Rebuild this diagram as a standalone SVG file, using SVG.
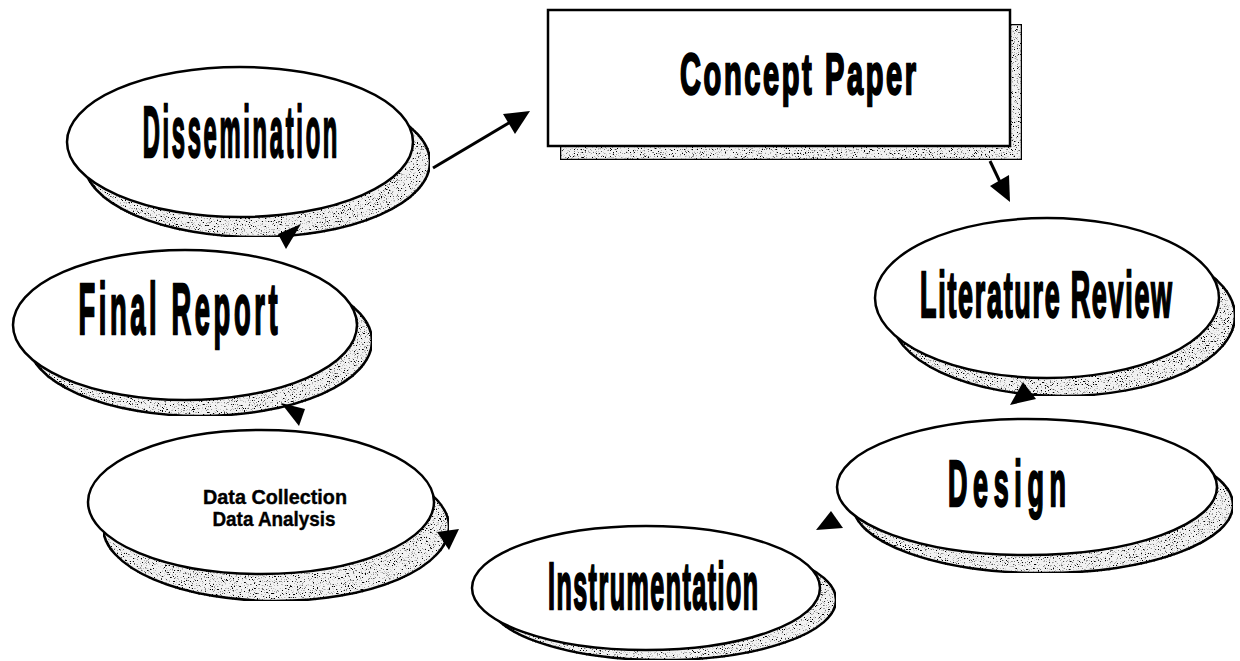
<svg xmlns="http://www.w3.org/2000/svg" width="1240" height="661" viewBox="0 0 1240 661">
  <defs>
    <!-- stippled grey used for the drop shadows -->
    <filter id="grain" x="0" y="0" width="100%" height="100%">
      <feTurbulence type="fractalNoise" baseFrequency="0.75" numOctaves="2" seed="7" result="noise"/>
      <feColorMatrix in="noise" type="matrix" values="0 0 0 0 0  0 0 0 0 0  0 0 0 0 0  -7 0 0 0 3.0" result="dots"/>
      <feComposite in="dots" in2="SourceGraphic" operator="in" result="clipped"/>
      <feMerge>
        <feMergeNode in="SourceGraphic"/>
        <feMergeNode in="clipped"/>
      </feMerge>
    </filter>
    <style>
      .shadow { fill: #f2f2f2; stroke: #000; stroke-width: 2.5; filter: url(#grain); }
      .face { fill: #fff; stroke: #000; stroke-width: 2.5; }
      .label { font-family: "Liberation Sans", Arial, sans-serif; font-weight: bold; fill: #000; stroke: #000; text-anchor: middle; }
      .big { stroke-width: 2.4; }
      .small { stroke-width: 0.4; }
      .link { stroke: #000; stroke-width: 3; fill: none; }
      .head { fill: #000; stroke: none; }
    </style>
  </defs>

  <rect width="1240" height="661" fill="#fff"/>

  <g id="concept-paper">
    <rect class="shadow" x="560" y="24" width="462" height="136"/>
    <rect class="face" x="548" y="10" width="462" height="136"/>
    <text class="label big" transform="translate(798,94) scale(0.5,1)" font-size="58" textLength="472" lengthAdjust="spacing">Concept Paper</text>
  </g>

  <g id="dissemination">
    <ellipse class="shadow" cx="257" cy="162" rx="173" ry="75"/>
    <ellipse class="face" cx="240" cy="142" rx="173" ry="75"/>
    <text class="label big" transform="translate(240,157) scale(0.33,1)" font-size="72" textLength="590" lengthAdjust="spacing">Dissemination</text>
  </g>

  <g id="literature-review">
    <ellipse class="shadow" cx="1063" cy="316" rx="172" ry="80"/>
    <ellipse class="face" cx="1047" cy="298" rx="172" ry="80"/>
    <text class="label big" transform="translate(1046,317) scale(0.42,1)" font-size="64" textLength="600" lengthAdjust="spacing">Literature Review</text>
  </g>

  <g id="final-report">
    <ellipse class="shadow" cx="200" cy="341" rx="172" ry="75"/>
    <ellipse class="face" cx="185" cy="325" rx="172" ry="75"/>
    <text class="label big" transform="translate(178,334) scale(0.38,1)" font-size="72" textLength="524" lengthAdjust="spacing">Final Report</text>
  </g>

  <g id="design">
    <ellipse class="shadow" cx="1043" cy="505" rx="190" ry="68"/>
    <ellipse class="face" cx="1027" cy="487" rx="190" ry="68"/>
    <text class="label big" transform="translate(1007,506) scale(0.42,1)" font-size="64" textLength="281" lengthAdjust="spacing">Design</text>
  </g>

  <g id="data-collection">
    <ellipse class="shadow" cx="276" cy="527" rx="173" ry="74"/>
    <ellipse class="face" cx="261" cy="502" rx="173" ry="72"/>
    <text class="label small" x="275" y="504" font-size="21" textLength="144" lengthAdjust="spacingAndGlyphs">Data Collection</text>
    <text class="label small" x="274" y="526" font-size="21" textLength="123" lengthAdjust="spacingAndGlyphs">Data Analysis</text>
  </g>

  <g id="instrumentation">
    <ellipse class="shadow" cx="662" cy="600" rx="174" ry="60"/>
    <ellipse class="face" cx="646" cy="588" rx="174" ry="62"/>
    <text class="label big" transform="translate(653,609) scale(0.38,1)" font-size="66" textLength="553" lengthAdjust="spacing">Instrumentation</text>
  </g>

  <g id="connectors">
    <!-- Dissemination to Concept Paper -->
    <line class="link" x1="433" y1="168" x2="512" y2="121"/>
    <polygon class="head" points="530,111 503,114 515,134"/>
    <!-- Concept Paper to Literature Review -->
    <line class="link" x1="990" y1="161" x2="1000" y2="182"/>
    <polygon class="head" points="1010,202 990,186 1009,175"/>
    <!-- Literature Review to Design -->
    <polygon class="head" points="1010,405 1023,382 1036,399"/>
    <!-- Design to Instrumentation -->
    <polygon class="head" points="816,530 831,511 843,528"/>
    <!-- Instrumentation to Data Collection -->
    <polygon class="head" points="437,532 459,529 449,550"/>
    <!-- Data Collection to Final Report -->
    <polygon class="head" points="281,403 305,409 299,426"/>
    <!-- Final Report to Dissemination -->
    <polygon class="head" points="278,234 301,224 286,249"/>
  </g>
</svg>
